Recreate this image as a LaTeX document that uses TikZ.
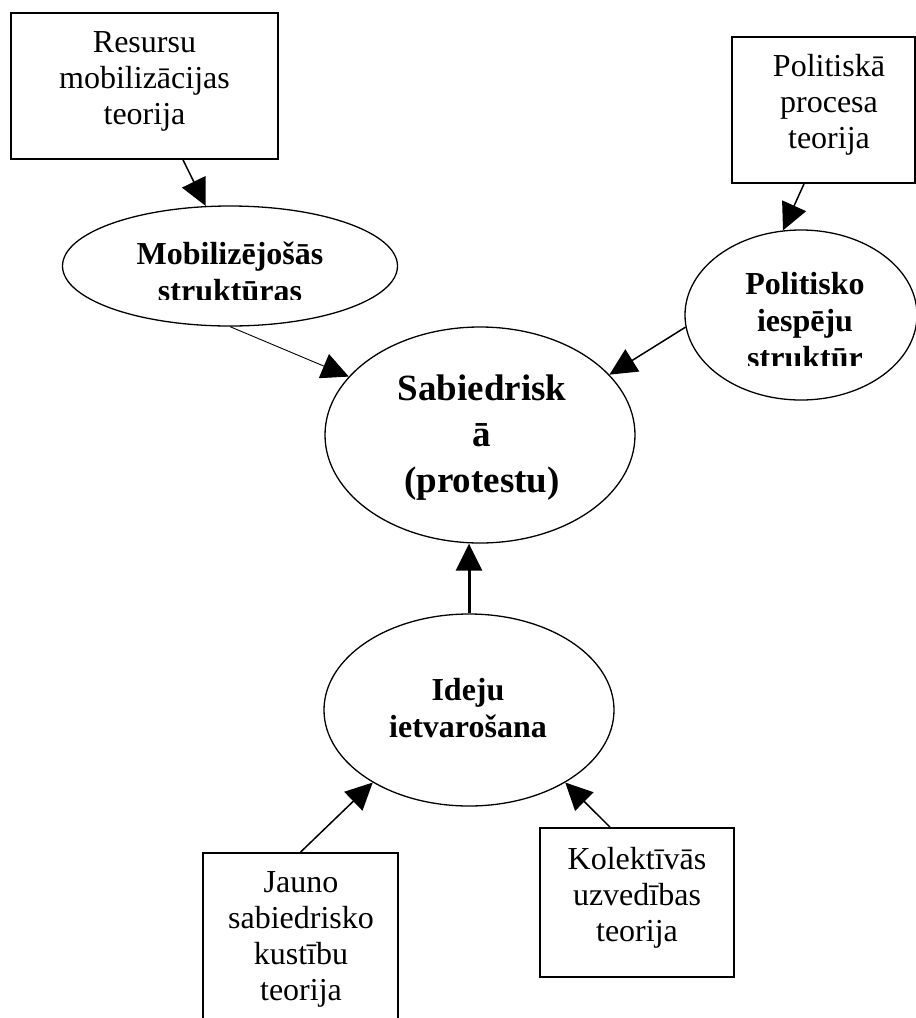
\documentclass[tikz,border=0pt]{standalone}
\usepackage{fontspec}
\setmainfont{Liberation Serif}
\usetikzlibrary{arrows.meta,shapes.geometric}
\begin{document}
\begin{tikzpicture}[x=1pt,y=-1pt,
  frame/.style={draw, line width=1.7pt, rectangle, inner sep=0pt},
  oval/.style={draw, line width=1.3pt, ellipse, inner sep=0pt},
  txt/.style={align=center, inner sep=0pt, font=\fontsize{32}{36}\selectfont},
  btxt/.style={align=center, inner sep=0pt, font=\fontsize{32}{37}\selectfont\bfseries},
  bigtxt/.style={align=center, inner sep=0pt, font=\fontsize{37}{46}\selectfont\bfseries},
  link/.style={line width=1.5pt, -{Triangle[length=27pt,width=26pt]}},
]
\useasboundingbox (0,0) rectangle (916,1018);
\clip (0,0) rectangle (916,1018);

% boxes
\node[frame, minimum width=267pt, minimum height=146pt] (box1) at (144.5,86) {};
\node[txt] (t1) at (144.5,81) {Resursu\\mobilizācijas\\teorija};

\node[frame, minimum width=183pt, minimum height=146pt] (box2) at (823.5,110) {};
\node[txt] (t2) at (829,105) {Politiskā\\procesa\\teorija};

\node[frame, minimum width=195pt, minimum height=187pt] (box3) at (300.5,946.5) {};
\node[txt] (t3) at (301,939) {Jauno\\sabiedrisko\\kustību\\teorija};

\node[frame, minimum width=194pt, minimum height=149pt] (box4) at (637,902.5) {};
\node[txt] (t4) at (637,898) {Kolektīvās\\uzvedības\\teorija};

% ellipses
\node[oval, minimum width=335pt, minimum height=120pt] (ell1) at (230,266) {};
\begin{scope}
  \clip (60,200) rectangle (400,299.5);
  \node[btxt] (t5) at (230,272) {Mobilizējošās\\struktūras};
\end{scope}

\node[oval, minimum width=232pt, minimum height=170pt] (ell3) at (801,315) {};
\begin{scope}
  \clip (686,230) rectangle (916,365);
  \node[btxt] (t6) at (805,320.5) {Politisko\\iespēju\\struktūr};
\end{scope}

\node[oval, minimum width=310pt, minimum height=216pt] (central) at (480,435) {};
\node[bigtxt] (t7) at (482,437.5) {Sabiedrisk\\ā\\(protestu)};

\node[oval, minimum width=290pt, minimum height=192pt] (ell4) at (469,710) {};
\node[btxt] (t8) at (468,708) {Ideju\\ietvarošana};

% connectors
\draw[link] ([xshift=38.5pt]box1.south) -- (ell1.112);
\draw[link, line width=0.9pt] (ell1.south) -- (central.156);
\draw[link] ([xshift=-19.5pt]box2.south) -- (ell3.102);
\draw[link] (ell3.186) -- (central.25);
\draw[link, line width=3pt] (ell4.north) -- (ell4.north |- central.south);
\draw[link] (box3.north) -- (ell4.217);
\draw[link] ([xshift=-27pt]box4.north) -- (ell4.323);
\end{tikzpicture}
\end{document}
